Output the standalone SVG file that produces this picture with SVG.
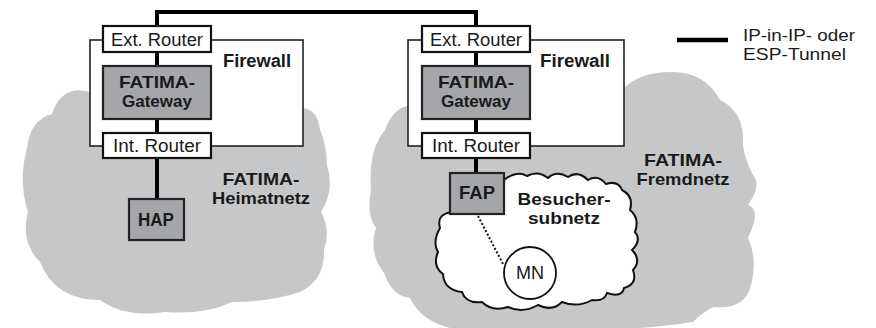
<svg xmlns="http://www.w3.org/2000/svg" width="876" height="328" viewBox="0 0 876 328">
<style>
.cloud{fill:#c6c7c9;stroke:none}
.fw{fill:#fff;stroke:#222;stroke-width:1.6}
.wbox{fill:#fff;stroke:#111;stroke-width:2.2}
.gbox{fill:#a4a6a9;stroke:#222;stroke-width:2.2}
.tun{fill:none;stroke:#000;stroke-width:4}
.t{font-family:"Liberation Sans",Arial,sans-serif;font-size:18px;fill:#1a1a1a}
.s{font-size:16.5px}
.b{font-weight:bold}
.m{text-anchor:middle}
</style>
<rect width="876" height="328" fill="#fff"/>
<g id="heimatnetz-cloud">
<path class="cloud" d="M 90 92 Q 62 84 52 114 Q 30 120 27 148 Q 18 182 28 212 Q 20 242 40 262 Q 55 300 100 300 Q 125 318 165 312 Q 205 315 232 302 Q 270 302 300 292 Q 325 280 324 250 Q 331 230 321 212 Q 335 190 327 165 Q 326 142 320 130 Q 318 110 303 108 L 303 100 L 90 100 Z"/>
</g>
<g id="fremdnetz-cloud">
<path class="cloud" d="M 408 106 Q 393 108 385 130 Q 368 150 371 190 Q 366 215 376 228 Q 368 252 384 273 Q 392 296 410 298 Q 420 320 450 328 L 640 328 Q 665 326 693 322 Q 705 310 714 307 Q 745 310 751 285 Q 758 260 748 238 Q 762 210 748 205 Q 762 185 753 175 Q 745 160 743 145 Q 745 112 720 100 Q 705 72 672 72 Q 640 72 624 88 L 624 100 L 408 100 Z"/>
</g>
<g id="firewall-heimat"><rect class="fw" x="90" y="40" width="213" height="106"/></g>
<g id="firewall-fremd"><rect class="fw" x="408" y="40" width="216" height="106"/></g>
<g id="connectors">
<path class="tun" d="M 157 27 V 12 H 476 V 27"/>
<line class="tun" x1="157" y1="52" x2="157" y2="66"/>
<line class="tun" x1="157" y1="119" x2="157" y2="133"/>
<line class="tun" x1="157" y1="158" x2="157" y2="199"/>
<line class="tun" x1="476" y1="52" x2="476" y2="66"/>
<line class="tun" x1="476" y1="119" x2="476" y2="133"/>
<line class="tun" x1="476" y1="158" x2="476" y2="173"/>
</g>
<g id="besuchersubnetz">
<path fill="#fff" stroke="#111" stroke-width="2" d="M 452 212 Q 436 214 440 228 Q 432 242 438 252 Q 432 266 443 274 Q 444 290 462 292 Q 466 304 482 302 Q 492 312 508 307 Q 522 314 538 305 Q 552 312 562 302 Q 578 308 592 300 Q 604 302 607 293 Q 622 298 624 288 Q 638 284 633 270 Q 642 260 632 250 Q 642 240 635 232 Q 640 218 630 210 Q 634 196 622 190 Q 618 180 606 184 Q 598 174 588 180 Q 578 170 568 177 Q 556 170 548 178 Q 538 170 527 176 Q 517 170 504 180 L 504 212 Z"/>
<text class="t s b m"><tspan x="564" y="205" textLength="93" lengthAdjust="spacingAndGlyphs">Besucher-</tspan><tspan x="564" y="224" textLength="72" lengthAdjust="spacingAndGlyphs">subnetz</tspan></text>
</g>
<g id="ext-router-heimat">
<rect class="wbox" x="103" y="26" width="108" height="26"/>
<text class="t m" x="157" y="46" textLength="92" lengthAdjust="spacingAndGlyphs">Ext. Router</text>
</g>
<g id="gateway-heimat">
<rect class="gbox" x="103" y="66" width="108" height="53"/>
<text class="t s b m"><tspan x="157" y="88" textLength="76" lengthAdjust="spacingAndGlyphs">FATIMA-</tspan><tspan x="157" y="107" textLength="70" lengthAdjust="spacingAndGlyphs">Gateway</tspan></text>
</g>
<g id="int-router-heimat">
<rect class="wbox" x="103" y="133" width="108" height="25"/>
<text class="t m" x="157" y="152" textLength="88" lengthAdjust="spacingAndGlyphs">Int. Router</text>
</g>
<g id="hap">
<rect class="gbox" x="129" y="199" width="55" height="41"/>
<text class="t b m" x="156" y="226" textLength="36" lengthAdjust="spacingAndGlyphs">HAP</text>
</g>
<g id="ext-router-fremd">
<rect class="wbox" x="422" y="26" width="108" height="26"/>
<text class="t m" x="476" y="46" textLength="92" lengthAdjust="spacingAndGlyphs">Ext. Router</text>
</g>
<g id="gateway-fremd">
<rect class="gbox" x="422" y="66" width="108" height="53"/>
<text class="t s b m"><tspan x="476" y="88" textLength="76" lengthAdjust="spacingAndGlyphs">FATIMA-</tspan><tspan x="476" y="107" textLength="70" lengthAdjust="spacingAndGlyphs">Gateway</tspan></text>
</g>
<g id="int-router-fremd">
<rect class="wbox" x="422" y="133" width="108" height="25"/>
<text class="t m" x="476" y="152" textLength="88" lengthAdjust="spacingAndGlyphs">Int. Router</text>
</g>
<g id="fap">
<rect class="gbox" x="450" y="173" width="54" height="41"/>
<text class="t b m" x="477" y="199" textLength="36" lengthAdjust="spacingAndGlyphs">FAP</text>
</g>
<g id="dotted-link">
<line x1="478" y1="216" x2="503" y2="264" stroke="#111" stroke-width="2" stroke-dasharray="2 2"/>
</g>
<g id="mn">
<circle cx="530" cy="273" r="26" fill="#fff" stroke="#111" stroke-width="1.8"/>
<text class="t m" x="530" y="279" textLength="28" lengthAdjust="spacingAndGlyphs">MN</text>
</g>
<g id="labels">
<text class="t b m" x="257" y="67" textLength="68" lengthAdjust="spacingAndGlyphs">Firewall</text>
<text class="t b m" x="575" y="67" textLength="70" lengthAdjust="spacingAndGlyphs">Firewall</text>
<text class="t s b m"><tspan x="261" y="185" textLength="77" lengthAdjust="spacingAndGlyphs">FATIMA-</tspan><tspan x="261" y="204" textLength="98" lengthAdjust="spacingAndGlyphs">Heimatnetz</tspan></text>
<text class="t s b m"><tspan x="683" y="166" textLength="78" lengthAdjust="spacingAndGlyphs">FATIMA-</tspan><tspan x="683" y="185" textLength="93" lengthAdjust="spacingAndGlyphs">Fremdnetz</tspan></text>
</g>
<g id="legend">
<line x1="677" y1="40" x2="728" y2="40" stroke="#000" stroke-width="4.5"/>
<text class="t s"><tspan x="743" y="41" textLength="112" lengthAdjust="spacingAndGlyphs">IP-in-IP- oder</tspan><tspan x="743" y="60" textLength="103" lengthAdjust="spacingAndGlyphs">ESP-Tunnel</tspan></text>
</g>
</svg>
